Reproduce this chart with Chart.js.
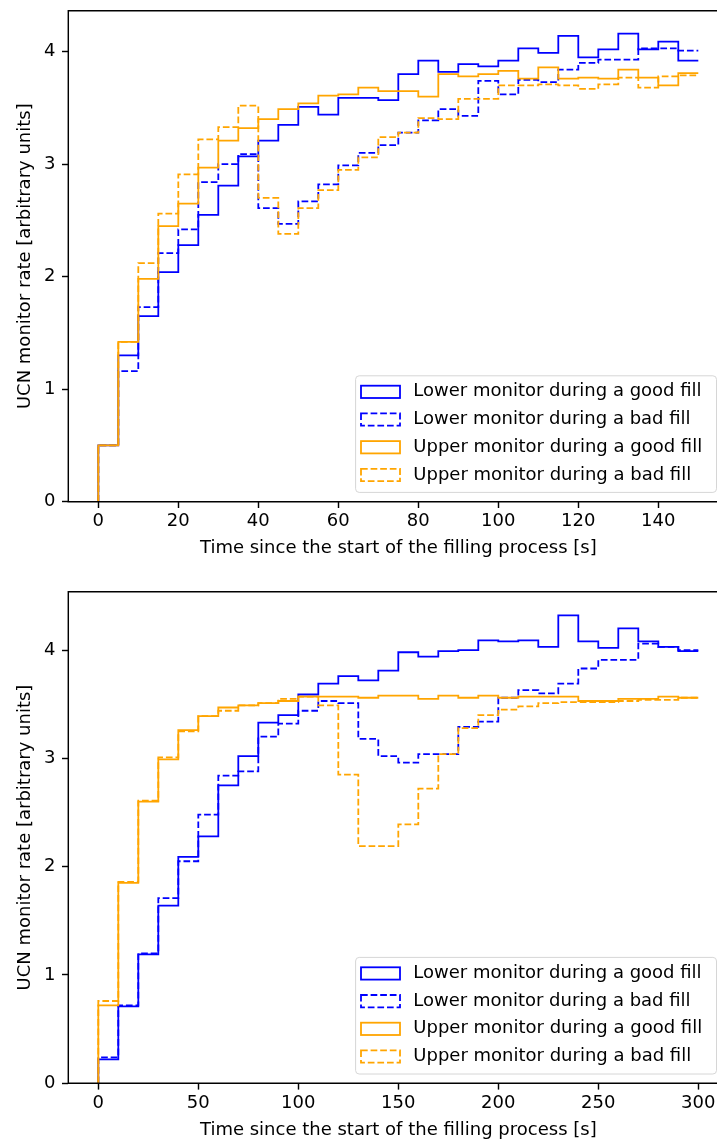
<!DOCTYPE html>
<html>
<head>
<meta charset="utf-8">
<title>UCN monitor rates during good and bad fills</title>
<script src="https://cdn.jsdelivr.net/npm/chart.js@4.4.1/dist/chart.umd.min.js"></script>
<style>
  html, body { margin: 0; padding: 0; background: #fff; }
  body { width: 717px; height: 1141px; overflow: hidden; position: relative; }
  canvas { position: absolute; left: 0; }
  #fill-short { top: 0; }
  #fill-long { top: 580px; }
</style>
</head>
<body>
<canvas id="fill-short" width="740" height="580"></canvas>
<canvas id="fill-long" width="740" height="561"></canvas>
<script>
// histogram bin widths in seconds
var shortBinWidth = 5;
var longBinWidth = 10;

var seriesLabels = [
    'Lower monitor during a good fill',
    'Lower monitor during a bad fill',
    'Upper monitor during a good fill',
    'Upper monitor during a bad fill'
];

// first 150 s, 5 s bins
var lowerGoodShort = [0.50, 1.30, 1.65, 2.04, 2.28, 2.55, 2.81, 3.07, 3.21, 3.35,
    3.51, 3.44, 3.59, 3.59, 3.57, 3.80, 3.92, 3.82, 3.89, 3.87,
    3.92, 4.03, 3.99, 4.14, 3.95, 4.02, 4.16, 4.02, 4.09, 3.92];
var lowerBadShort = [0.50, 1.16, 1.73, 2.21, 2.42, 2.84, 3.00, 3.09, 2.61, 2.47,
    2.67, 2.82, 2.99, 3.10, 3.17, 3.28, 3.39, 3.49, 3.43, 3.74,
    3.62, 3.75, 3.73, 3.84, 3.90, 3.93, 3.93, 4.03, 4.03, 4.01];
var upperGoodShort = [0.50, 1.42, 1.98, 2.45, 2.65, 2.97, 3.21, 3.32, 3.40, 3.49,
    3.54, 3.61, 3.62, 3.68, 3.65, 3.65, 3.60, 3.80, 3.78, 3.80,
    3.83, 3.76, 3.86, 3.76, 3.77, 3.76, 3.84, 3.77, 3.70, 3.81];
var upperBadShort = [0.50, 1.42, 2.12, 2.56, 2.91, 3.22, 3.33, 3.52, 2.70, 2.38,
    2.61, 2.77, 2.95, 3.06, 3.24, 3.28, 3.41, 3.40, 3.58, 3.58,
    3.70, 3.70, 3.71, 3.70, 3.67, 3.71, 3.77, 3.68, 3.78, 3.79];

// first 300 s, 10 s bins
var lowerGoodLong = [0.22, 0.71, 1.19, 1.64, 2.09, 2.28, 2.75, 3.02, 3.33, 3.40,
    3.59, 3.69, 3.76, 3.72, 3.81, 3.98, 3.94, 3.99, 4.00, 4.09,
    4.08, 4.09, 4.03, 4.32, 4.08, 4.02, 4.20, 4.08, 4.03, 3.99];
var lowerBadLong = [0.24, 0.72, 1.20, 1.71, 2.05, 2.48, 2.84, 2.88, 3.20, 3.32,
    3.44, 3.53, 3.51, 3.18, 3.02, 2.96, 3.04, 3.04, 3.29, 3.34,
    3.56, 3.63, 3.60, 3.69, 3.83, 3.91, 3.91, 4.06, 4.03, 4.00];
var upperGoodLong = [0.72, 1.85, 2.60, 2.99, 3.26, 3.39, 3.47, 3.49, 3.51, 3.53,
    3.57, 3.57, 3.57, 3.56, 3.58, 3.58, 3.55, 3.58, 3.56, 3.58,
    3.56, 3.57, 3.57, 3.57, 3.53, 3.53, 3.55, 3.55, 3.57, 3.56];
var upperBadLong = [0.76, 1.86, 2.61, 3.01, 3.25, 3.39, 3.44, 3.49, 3.51, 3.55,
    3.57, 3.49, 2.85, 2.19, 2.19, 2.39, 2.72, 3.04, 3.28, 3.40,
    3.45, 3.48, 3.51, 3.52, 3.52, 3.52, 3.53, 3.54, 3.54, 3.56];

var shortTicksX = [0, 20, 40, 60, 80, 100, 120, 140];
var longTicksX = [0, 50, 100, 150, 200, 250, 300];
var ticksY = [0, 1, 2, 3, 4];

var seriesStyles = [
    { color: '#0000ff', dash: [] },
    { color: '#0000ff', dash: [6.7, 2.9] },
    { color: '#ffa500', dash: [] },
    { color: '#ffa500', dash: [6.7, 2.9] }
];

var FONT = '"DejaVu Sans", "Liberation Sans", sans-serif';
Chart.defaults.font.family = FONT;
Chart.defaults.font.size = 18;
Chart.defaults.color = '#000';

// outline of a step histogram: up from zero at the first edge, then one step per bin
function stepPoints(binWidth, values) {
    var pts = [{ x: 0, y: 0 }];
    values.forEach(function(v, i) {
        pts.push({ x: (i + 1) * binWidth, y: v });
    });
    return pts;
}

// left, top and bottom spines (the right one sits past the page edge)
var frame = {
    id: 'frame',
    afterDraw: function(chart) {
        var a = chart.chartArea, ctx = chart.ctx;
        ctx.save();
        ctx.strokeStyle = '#000';
        ctx.lineWidth = 1.44;
        ctx.beginPath();
        ctx.moveTo(a.right, a.top);
        ctx.lineTo(a.left, a.top);
        ctx.lineTo(a.left, a.bottom);
        ctx.lineTo(a.right, a.bottom);
        ctx.stroke();
        ctx.restore();
    }
};

var boxLegend = {
    id: 'boxLegend',
    afterDraw: function(chart) {
        var ctx = chart.ctx, a = chart.chartArea;
        var left = 355.6, right = 716.5;
        var bottom = a.bottom - 9.3, top = bottom - 116.6, r = 3.6;
        ctx.save();
        ctx.beginPath();
        ctx.moveTo(left + r, top);
        ctx.arcTo(right, top, right, bottom, r);
        ctx.arcTo(right, bottom, left, bottom, r);
        ctx.arcTo(left, bottom, left, top, r);
        ctx.arcTo(left, top, right, top, r);
        ctx.closePath();
        ctx.fillStyle = 'rgba(255,255,255,0.8)';
        ctx.fill();
        ctx.strokeStyle = '#d6d6d6';
        ctx.lineWidth = 1;
        ctx.stroke();

        ctx.font = '18px ' + FONT;
        ctx.textBaseline = 'middle';
        ctx.textAlign = 'left';
        chart.data.datasets.forEach(function(ds, i) {
            var cy = top + 16 + i * 27.7;
            ctx.setLineDash(ds.borderDash);
            ctx.strokeStyle = ds.borderColor;
            ctx.lineWidth = 1.8;
            ctx.strokeRect(left + 5.4, cy - 6.1, 39, 12.3);
            ctx.setLineDash([]);
            ctx.fillStyle = '#000';
            ctx.fillText(ds.label, left + 57.7, cy);
        });
        ctx.restore();
    }
};

function axisGrid() {
    return {
        display: true,
        drawOnChartArea: false,
        drawTicks: true,
        tickLength: 6.3,
        tickWidth: 1.44,
        tickColor: '#000'
    };
}

function buildChart(id, binWidth, series, ticksX, xMin, xMax, yMax, padTop, xAxisHeight, titlePad) {
    var datasets = series.map(function(values, i) {
        return {
            label: seriesLabels[i],
            data: stepPoints(binWidth, values),
            borderColor: seriesStyles[i].color,
            borderDash: seriesStyles[i].dash,
            borderWidth: 1.8,
            fill: false,
            stepped: 'after',
            pointRadius: 0,
            order: series.length - i
        };
    });

    return new Chart(document.getElementById(id).getContext('2d'), {
        type: 'line',
        data: { datasets: datasets },
        options: {
            responsive: false,
            animation: false,
            events: [],
            layout: { padding: { top: padTop, right: 11.7, bottom: 0, left: 0 } },
            plugins: { legend: { display: false }, tooltip: { enabled: false } },
            scales: {
                x: {
                    type: 'linear',
                    min: xMin,
                    max: xMax,
                    afterBuildTicks: function(s) {
                        s.ticks = ticksX.map(function(v) { return { value: v }; });
                    },
                    afterFit: function(s) {
                        s.height = xAxisHeight;
                        s.paddingLeft = 0;
                        s.paddingRight = 0;
                    },
                    grid: axisGrid(),
                    border: { display: false },
                    ticks: { padding: 2.5, maxRotation: 0, autoSkip: false, color: '#000' },
                    title: {
                        display: true,
                        text: 'Time since the start of the filling process [s]',
                        color: '#000',
                        padding: { top: 0, bottom: titlePad }
                    }
                },
                y: {
                    min: 0,
                    max: yMax,
                    afterBuildTicks: function(s) {
                        s.ticks = ticksY.map(function(v) { return { value: v }; });
                    },
                    afterFit: function(s) {
                        s.width = 68.3;
                        s.paddingTop = 0;
                        s.paddingBottom = 0;
                    },
                    grid: axisGrid(),
                    border: { display: false },
                    ticks: { padding: 6.5, color: '#000' },
                    title: {
                        display: true,
                        text: 'UCN monitor rate [arbitrary units]',
                        color: '#000',
                        padding: { top: 14.2, bottom: 0 }
                    }
                }
            }
        },
        plugins: [frame, boxLegend]
    });
}

buildChart('fill-short', shortBinWidth,
    [lowerGoodShort, lowerBadShort, upperGoodShort, upperBadShort],
    shortTicksX, -7.5, 157.5, 4.364, 10.7, 78.3, 21.2);

buildChart('fill-long', longBinWidth,
    [lowerGoodLong, lowerBadLong, upperGoodLong, upperBadLong],
    longTicksX, -15, 315, 4.539, 11.7, 57.7, 0.2);
</script>
</body>
</html>
